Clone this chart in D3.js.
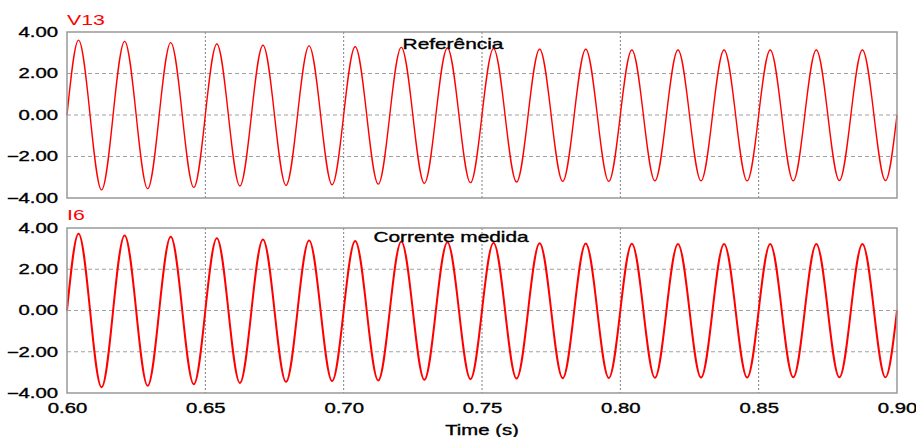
<!DOCTYPE html>
<html>
<head>
<meta charset="utf-8">
<script src="https://cdn.jsdelivr.net/npm/d3@7"></script>
<style>
  body { margin: 0; background: #fff; }
  text { font-family: "Liberation Sans", Arial, sans-serif; }
  .lbl { stroke: #000; stroke-width: 0.35px; }
</style>
</head>
<body>
<svg id="chart"></svg>
<script>
// time axis
const timeDomain = [0.60, 0.90];
const timeTicks = [0.60, 0.65, 0.70, 0.75, 0.80, 0.85, 0.90];
const valueTicks = [-4, -2, 0, 2, 4];
const freq = 60; // Hz, 18 cycles in the window

// peak / trough of each cycle
const refPeaks   = [3.61, 3.55, 3.49, 3.42, 3.36, 3.33, 3.29, 3.26, 3.23, 3.20, 3.17, 3.17, 3.13, 3.13, 3.13, 3.13, 3.13, 3.13];
const refTroughs = [-3.61, -3.55, -3.49, -3.42, -3.39, -3.36, -3.33, -3.29, -3.26, -3.23, -3.20, -3.20, -3.17, -3.17, -3.17, -3.17, -3.16, -3.16];
const measPeaks   = [3.72, 3.64, 3.57, 3.50, 3.44, 3.40, 3.37, 3.34, 3.31, 3.28, 3.26, 3.25, 3.24, 3.23, 3.23, 3.23, 3.23, 3.23];
const measTroughs = [-3.72, -3.65, -3.58, -3.51, -3.46, -3.42, -3.39, -3.36, -3.33, -3.30, -3.28, -3.27, -3.26, -3.25, -3.25, -3.24, -3.24, -3.24];

const width = 916, height = 437;
const svg = d3.select('#chart').attr('width', width).attr('height', height);

const x = d3.scaleLinear().domain(timeDomain).range([67, 897]);

const panels = [
    { name: 'V13', title: 'Referência', peaks: refPeaks, troughs: refTroughs, top: 32, bottom: 198, titleX: 453, titleY: 49, nameY: 25, width: 1.4, showX: false },
    { name: 'I6', title: 'Corrente medida', peaks: measPeaks, troughs: measTroughs, top: 228, bottom: 393, titleX: 451, titleY: 242, nameY: 220, width: 2, showX: true }
];

const stretch = 1.45;

// zero crossings and extrema of each cycle
function wavePoints(peaks, troughs) {
    const pts = [];
    const t0 = timeDomain[0];
    peaks.forEach((p, k) => {
        pts.push([t0 + k / freq, 0]);
        pts.push([t0 + (k + 0.25) / freq, p]);
        pts.push([t0 + (k + 0.5) / freq, 0]);
        pts.push([t0 + (k + 0.75) / freq, troughs[k]]);
    });
    pts.push([t0 + peaks.length / freq, 0]);
    return pts;
}

panels.forEach(p => {
    const y = d3.scaleLinear().domain([-4, 4]).range([p.bottom, p.top]);
    const g = svg.append('g');

    // grid
    g.selectAll('.hgrid')
        .data([-2, 0, 2])
        .enter().append('line')
        .attr('x1', x.range()[0]).attr('x2', x.range()[1])
        .attr('y1', d => y(d)).attr('y2', d => y(d))
        .attr('stroke', '#a0a0a0')
        .attr('stroke-dasharray', '4,3');

    g.selectAll('.vgrid')
        .data(timeTicks.slice(1, -1))
        .enter().append('line')
        .attr('x1', d => x(d)).attr('x2', d => x(d))
        .attr('y1', p.top).attr('y2', p.bottom)
        .attr('stroke', '#808080')
        .attr('stroke-dasharray', '2,2');

    // signal
    const line = d3.line()
        .x(d => x(d[0]))
        .y(d => y(d[1]))
        .curve(d3.curveNatural);

    g.append('path')
        .datum(wavePoints(p.peaks, p.troughs))
        .attr('fill', 'none')
        .attr('stroke', '#ff0000')
        .attr('stroke-width', p.width)
        .attr('d', line);

    // frame
    g.append('rect')
        .attr('x', x.range()[0]).attr('y', p.top)
        .attr('width', x.range()[1] - x.range()[0])
        .attr('height', p.bottom - p.top)
        .attr('fill', 'none')
        .attr('stroke', '#999')
        .attr('stroke-width', 1.5);

    // y axis
    const yAxis = g.append('g')
        .attr('transform', `translate(${x.range()[0]},0)`)
        .call(d3.axisLeft(y).tickValues(valueTicks).tickSize(0).tickPadding(9).tickFormat(d3.format('.2f')));
    yAxis.select('.domain').remove();
    yAxis.selectAll('text')
        .attr('class', 'lbl')
        .attr('x', null)
        .attr('transform', `translate(-9,0) scale(${stretch},1)`)
        .attr('font-size', 14)
        .attr('font-family', null)
        .attr('fill', '#000');

    if (p.showX) {
        const xAxis = g.append('g')
            .attr('transform', `translate(0,${p.bottom})`)
            .call(d3.axisBottom(x).tickValues(timeTicks).tickSize(0).tickPadding(10).tickFormat(d3.format('.2f')));
        xAxis.select('.domain').remove();
        xAxis.selectAll('text')
            .attr('class', 'lbl')
            .attr('y', null)
            .attr('transform', `translate(0,10) scale(${stretch},1)`)
            .attr('font-size', 14)
            .attr('font-family', null)
            .attr('fill', '#000');
    }

    svg.append('text')
        .attr('transform', `translate(${x.range()[0]},${p.nameY}) scale(1.42,1)`)
        .attr('font-size', 15)
        .attr('fill', '#ff0000')
        .text(p.name);

    svg.append('text')
        .attr('class', 'lbl')
        .attr('transform', `translate(${p.titleX},${p.titleY}) scale(1.39,1)`)
        .attr('text-anchor', 'middle')
        .attr('font-size', 15)
        .attr('fill', '#000')
        .text(p.title);
});

svg.append('text')
    .attr('class', 'lbl')
    .attr('transform', `translate(${(x.range()[0] + x.range()[1]) / 2},435) scale(1.45,1)`)
    .attr('text-anchor', 'middle')
    .attr('font-size', 14)
    .attr('fill', '#000')
    .text('Time (s)');
</script>
</body>
</html>
